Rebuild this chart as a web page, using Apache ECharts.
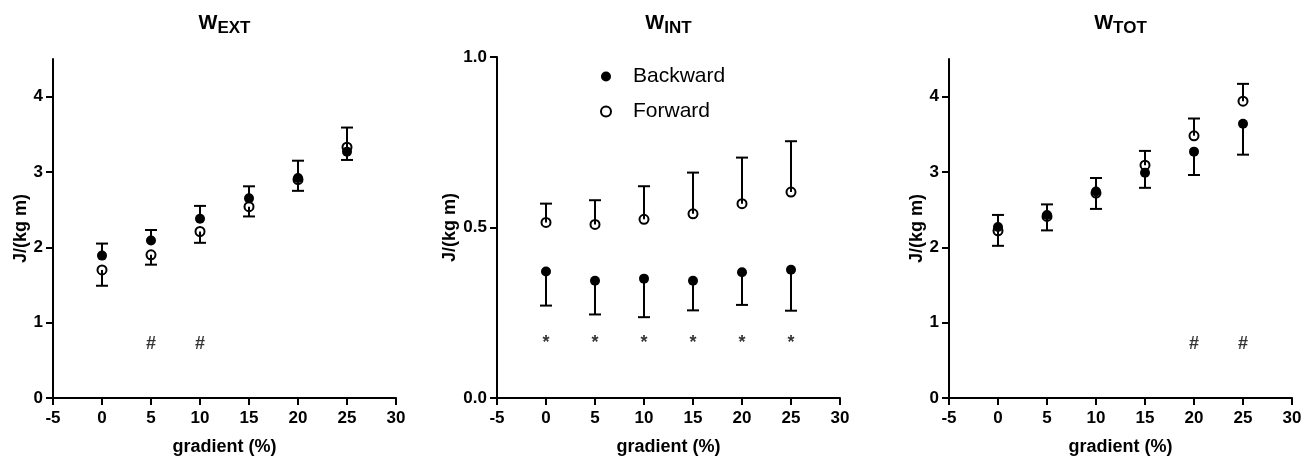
<!DOCTYPE html>
<html>
<head>
<meta charset="utf-8">
<script src="https://cdn.jsdelivr.net/npm/echarts@6/dist/echarts.min.js"></script>
<style>
  html, body { margin: 0; padding: 0; background: #fff; }
  #chart { width: 1311px; height: 461px; }
</style>
</head>
<body>
<div id="chart"></div>
<script>
// gradients (%)
var gradients = [0, 5, 10, 15, 20, 25];

// W_EXT  J/(kg m) -- mean and end of one-sided error bar
var extBack = [1.89, 2.09, 2.38, 2.65, 2.92, 3.27];
var extBackEnd = [2.05, 2.23, 2.55, 2.81, 3.15, 3.16];
var extFwd = [1.70, 1.90, 2.21, 2.54, 2.90, 3.33];
var extFwdEnd = [1.49, 1.77, 2.06, 2.41, 2.75, 3.59];

// W_INT
var intBack = [0.371, 0.344, 0.350, 0.344, 0.369, 0.376];
var intBackEnd = [0.271, 0.245, 0.237, 0.257, 0.273, 0.256];
var intFwd = [0.515, 0.509, 0.524, 0.540, 0.570, 0.604];
var intFwdEnd = [0.570, 0.580, 0.621, 0.661, 0.705, 0.753];

// W_TOT
var totBack = [2.27, 2.43, 2.74, 2.99, 3.27, 3.64];
var totBackEnd = [2.43, 2.57, 2.92, 2.79, 2.96, 3.23];
var totFwd = [2.22, 2.41, 2.72, 3.09, 3.48, 3.94];
var totFwdEnd = [2.02, 2.225, 2.51, 3.28, 3.71, 4.17];

// significance marks
var extSig = [5, 10];
var intSig = [0, 5, 10, 15, 20, 25];
var totSig = [20, 25];
var extSigLevel = 0.71;
var intSigLevel = 0.16;
var totSigLevel = 0.71;

var titles = ['EXT', 'INT', 'TOT'];

var FONT = 'Liberation Sans, Arial, Helvetica, sans-serif';

var grids = [
  { left: 53, right: 915, top: 59, bottom: 60 },
  { left: 497, right: 471, top: 57, bottom: 59 },
  { left: 949, right: 19, top: 59, bottom: 60 }
];

function pairs(xs, ys) {
  return xs.map(function (x, i) { return [x, ys[i]]; });
}
function bars(xs, means, ends) {
  return xs.map(function (x, i) { return [x, means[i], ends[i]]; });
}

function errorSeries(idx, data) {
  return {
    type: 'custom',
    name: 'err' + idx,
    xAxisIndex: idx,
    yAxisIndex: idx,
    z: 1,
    silent: true,
    data: data,
    renderItem: function (params, api) {
      var p0 = api.coord([api.value(0), api.value(1)]);
      var p1 = api.coord([api.value(0), api.value(2)]);
      var hw = 6;
      return {
        type: 'group',
        children: [
          { type: 'line', shape: { x1: p0[0], y1: p0[1], x2: p1[0], y2: p1[1] },
            style: { stroke: '#000', lineWidth: 2 } },
          { type: 'line', shape: { x1: p1[0] - hw, y1: p1[1], x2: p1[0] + hw, y2: p1[1] },
            style: { stroke: '#000', lineWidth: 2 } }
        ]
      };
    }
  };
}

function backSeries(idx, data) {
  return {
    type: 'scatter', name: 'Backward', xAxisIndex: idx, yAxisIndex: idx,
    symbol: 'circle', symbolSize: 10, z: 2,
    itemStyle: { color: '#000', opacity: 1 },
    data: data
  };
}
function fwdSeries(idx, data) {
  return {
    type: 'scatter', name: 'Forward', xAxisIndex: idx, yAxisIndex: idx,
    symbol: 'circle', symbolSize: 9, z: 3,
    itemStyle: { color: 'rgba(0,0,0,0)', borderColor: '#000', borderWidth: 2, opacity: 1 },
    data: data
  };
}
function sigSeries(idx, xs, level, mark, size) {
  return {
    type: 'scatter', name: 'sig' + idx, xAxisIndex: idx, yAxisIndex: idx,
    symbolSize: 1, silent: true,
    itemStyle: { color: 'rgba(0,0,0,0)' },
    label: {
      show: true, position: 'inside', formatter: mark,
      color: '#000', fontSize: size, fontWeight: 'bold', fontFamily: FONT
    },
    data: xs.map(function (x) { return [x, level]; })
  };
}

var yMax = [4.5, 1, 4.5];
var yTicks = [[0, 1, 2, 3, 4], [0, 0.5, 1], [0, 1, 2, 3, 4]];

var myChart = echarts.init(document.getElementById('chart'));
var option = {
  backgroundColor: '#fff',
  animation: false,
  title: titles.map(function (t, i) {
    var g = grids[i];
    var cx = g.left + (1311 - g.left - g.right) / 2;
    return {
      text: '{w|W}{s|' + t + '}',
      left: cx,
      top: 13,
      padding: 0,
      textAlign: 'center',
      textStyle: {
        rich: {
          w: { fontSize: 20, fontWeight: 'bold', fontFamily: FONT, color: '#000', lineHeight: 20, verticalAlign: 'top' },
          s: { fontSize: 17, fontWeight: 'bold', fontFamily: FONT, color: '#000', lineHeight: 24, verticalAlign: 'bottom' }
        }
      }
    };
  }),
  legend: {
    orient: 'vertical',
    left: 600,
    top: 66,
    padding: 0,
    itemGap: 14,
    itemWidth: 10,
    itemHeight: 10,
    selectedMode: false,
    textStyle: { fontSize: 21, fontFamily: FONT, color: '#000', padding: [0, 0, 0, 17] },
    data: [
      { name: 'Backward', icon: 'circle', itemStyle: { color: '#000', borderWidth: 0, opacity: 1 } },
      { name: 'Forward', icon: 'circle', itemStyle: { color: 'rgba(0,0,0,0)', borderColor: '#000', borderWidth: 2, opacity: 1 } }
    ]
  },
  grid: grids,
  xAxis: grids.map(function (g, i) {
    return {
      type: 'value', gridIndex: i, min: -5, max: 30, interval: 5,
      name: 'gradient (%)', nameLocation: 'middle', nameGap: 40,
      nameTextStyle: { fontSize: 18, fontWeight: 'bold', fontFamily: FONT, color: '#000' },
      axisLine: { show: true, onZero: false, lineStyle: { color: '#000', width: 2 } },
      axisTick: { show: true, length: 7, lineStyle: { color: '#000', width: 2 } },
      axisLabel: { fontSize: 17, fontWeight: 'bold', fontFamily: FONT, color: '#000', margin: 12 },
      splitLine: { show: false }
    };
  }),
  yAxis: grids.map(function (g, i) {
    return {
      type: 'value', gridIndex: i, min: 0, max: yMax[i],
      name: 'J/(kg m)', nameLocation: 'middle', nameGap: 22, nameRotate: 90,
      nameTextStyle: { fontSize: 18, fontWeight: 'bold', fontFamily: FONT, color: '#000' },
      axisLine: { show: true, onZero: false, lineStyle: { color: '#000', width: 2 } },
      axisTick: { show: true, length: 7, customValues: yTicks[i], lineStyle: { color: '#000', width: 2 } },
      axisLabel: {
        fontSize: 17, fontWeight: 'bold', fontFamily: FONT, color: '#000', margin: 10,
        customValues: yTicks[i],
        formatter: function (v) { return i === 1 ? v.toFixed(1) : String(v); }
      },
      splitLine: { show: false }
    };
  }),
  series: [
    errorSeries(0, bars(gradients, extBack, extBackEnd)),
    errorSeries(0, bars(gradients, extFwd, extFwdEnd)),
    backSeries(0, pairs(gradients, extBack)),
    fwdSeries(0, pairs(gradients, extFwd)),
    sigSeries(0, extSig, extSigLevel, '#', 18),

    errorSeries(1, bars(gradients, intBack, intBackEnd)),
    errorSeries(1, bars(gradients, intFwd, intFwdEnd)),
    backSeries(1, pairs(gradients, intBack)),
    fwdSeries(1, pairs(gradients, intFwd)),
    sigSeries(1, intSig, intSigLevel, '*', 18),

    errorSeries(2, bars(gradients, totBack, totBackEnd)),
    errorSeries(2, bars(gradients, totFwd, totFwdEnd)),
    backSeries(2, pairs(gradients, totBack)),
    fwdSeries(2, pairs(gradients, totFwd)),
    sigSeries(2, totSig, totSigLevel, '#', 18)
  ]
};
myChart.setOption(option);
</script>
</body>
</html>
